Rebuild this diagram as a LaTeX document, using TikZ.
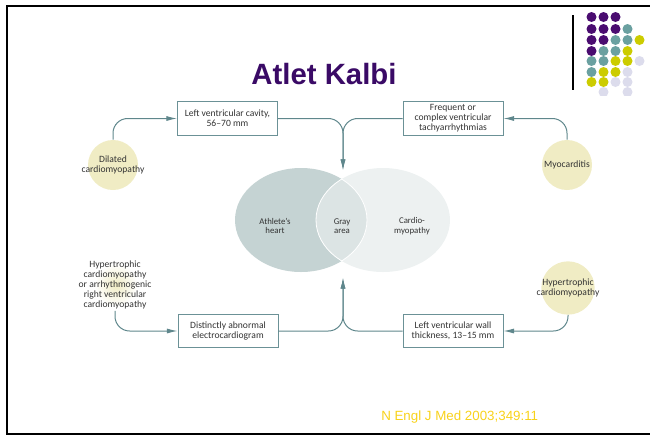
\documentclass[tikz,border=0pt]{standalone}
\usepackage{fontspec}
\setmainfont{Carlito}
\newfontfamily\arialfont{Liberation Sans}
\usetikzlibrary{arrows.meta,shapes.geometric}
\definecolor{connc}{HTML}{5F878C}
\definecolor{boxc}{HTML}{6B9196}
\definecolor{circc}{HTML}{F0ECC4}
\definecolor{vennL}{HTML}{C5D3D3}
\definecolor{vennR}{HTML}{EDF1F1}
\definecolor{vennM}{HTML}{DCE4E4}
\definecolor{titlec}{HTML}{3A0A66}
\definecolor{citec}{HTML}{F8D21A}
\definecolor{dotP}{HTML}{4A0C70}
\definecolor{dotT}{HTML}{6AA0A0}
\definecolor{dotY}{HTML}{CCCC00}
\definecolor{dotL}{HTML}{DCDCEC}
\definecolor{txtc}{HTML}{333333}
\tikzset{
  diagfont/.style={font=\fontsize{7.2}{7.6}\selectfont, text=txtc},
  boxnode/.style={draw=boxc, line width=0.7pt, fill=white, minimum width=75pt, minimum height=25pt, align=center, inner sep=1pt, diagfont},
  disease/.style={circle, fill=circc, minimum size=37.5pt, inner sep=0pt},
  dlabel/.style={align=center, diagfont, inner sep=1pt},
  conn/.style={draw=connc, line width=0.75pt, rounded corners=11pt},
  arr/.style={-{Latex[length=8pt,width=3.8pt]}},
  venntext/.style={align=center, font=\fontsize{6.6}{7}\selectfont, text=txtc},
  dot/.style={circle, minimum size=7.5pt, inner sep=0pt},
}
\begin{document}
\begin{tikzpicture}[x=0.75pt,y=-0.75pt]
\useasboundingbox (0,0) rectangle (650,437);
% frame
\draw[line width=2pt, black] (650,6) -- (7,6) -- (7,434) -- (650,434);
% logo
\draw[line width=0.8pt] (573,15) -- (573,90);
\begin{scope}
\clip (580,8) rectangle (650,95);
\foreach \c [count=\i] in {dotP,dotP,dotP} \node[dot,fill=\c] at ({579.5+12*\i},17) {};
\foreach \c [count=\i] in {dotP,dotP,dotP,dotT} \node[dot,fill=\c] at ({579.5+12*\i},29) {};
\foreach \c [count=\i] in {dotP,dotP,dotT,dotT,dotY} \node[dot,fill=\c] at ({579.5+12*\i},40) {};
\foreach \c [count=\i] in {dotP,dotT,dotT,dotY} \node[dot,fill=\c] at ({579.5+12*\i},51) {};
\foreach \c [count=\i] in {dotT,dotT,dotY,dotY,dotL} \node[dot,fill=\c] at ({579.5+12*\i},61) {};
\foreach \c [count=\i] in {dotT,dotY,dotY,dotL} \node[dot,fill=\c] at ({579.5+12*\i},72) {};
\foreach \c [count=\i] in {dotY,dotY,dotL,dotL} \node[dot,fill=\c] at ({579.5+12*\i},82) {};
\node[dot,fill=dotL] at (603.5,92) {};
\node[dot,fill=dotL] at (627.5,92) {};
\end{scope}
% title
\node[font=\arialfont\bfseries\fontsize{22}{24}\selectfont, text=titlec] (title) at (324,74) {Atlet Kalbi};
% venn
\fill[vennL] (301,220) ellipse [x radius=49.5pt, y radius=39pt];
\fill[vennR] (383,220) ellipse [x radius=50.25pt, y radius=39pt];
\begin{scope}
\clip (301,220) ellipse [x radius=49.5pt, y radius=39pt];
\fill[vennM] (383,220) ellipse [x radius=50.25pt, y radius=39pt];
\draw[white, line width=0.6pt] (383,220) ellipse [x radius=50.25pt, y radius=39pt];
\end{scope}
\begin{scope}
\clip (383,220) ellipse [x radius=50.25pt, y radius=39pt];
\draw[white, line width=0.6pt] (301,220) ellipse [x radius=49.5pt, y radius=39pt];
\end{scope}
\node[venntext] (ath) at (275,226) {Athlete's\\heart};
\node[venntext] (gray) at (342,226) {Gray\\area};
\node[venntext] (cmp) at (412,226) {Cardio-\\myopathy};
\coordinate (topin) at (343,170);
\coordinate (botin) at (343,278);
% boxes
\node[boxnode] (lvc) at (227.5,118.5) {Left ventricular cavity,\\56--70 mm};
\node[boxnode] (freq) at (453,118.5) {Frequent or\\complex ventricular\\tachyarrhythmias};
\node[boxnode] (abn) at (228,331) {Distinctly abnormal\\electrocardiogram};
\node[boxnode] (wall) at (453,331) {Left ventricular wall\\thickness, 13--15 mm};
% diseases
\node[disease] (dil) at (113,165) {};
\node[dlabel] (dilt) at (dil) {Dilated\\cardiomyopathy};
\node[disease] (myo) at (567,165) {};
\node[dlabel] (myot) at (myo) {Myocarditis};
\node[disease, minimum size=40pt] (hcm2) at (568,288) {};
\node[dlabel] (hcm2t) at (hcm2) {Hypertrophic\\cardiomyopathy};
\shade[inner color=circc, outer color=white] (116,285) circle [radius=16pt];
\node[dlabel] (hcm) at (115,285) {Hypertrophic\\cardiomyopathy\\or arrhythmogenic\\right ventricular\\cardiomyopathy};
% connectors
\draw[conn, arr] (dil.north) |- (lvc.west);
\draw[conn, arr] (myo.north) |- (freq.east);
\draw[conn, arr] (lvc.east) -| (topin);
\draw[conn, arr] (freq.west) -| (topin);
\draw[conn, arr] (hcm.south) |- (abn.west);
\draw[conn, arr] (hcm2.south) |- (wall.east);
\draw[conn, arr] (abn.east) -| (botin);
\draw[conn, arr] (wall.west) -| (botin);
% citation
\node[anchor=west, font=\arialfont\fontsize{10}{12}\selectfont, text=citec, inner sep=0] (cite) at (381,417) {N Engl J Med 2003;349:11};
\end{tikzpicture}
\end{document}
